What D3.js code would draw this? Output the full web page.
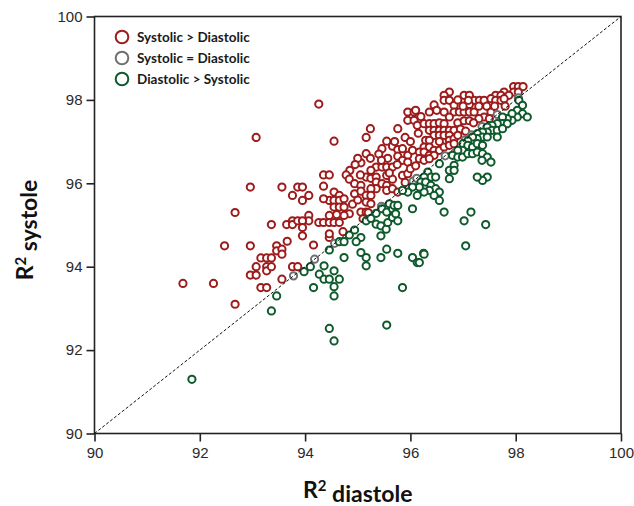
<!DOCTYPE html>
<html>
<head>
<meta charset="utf-8">
<script src="https://cdn.jsdelivr.net/npm/d3@7"></script>
<style>
  body { margin: 0; background: #fff; }
  svg { display: block; }
</style>
</head>
<body>
<div id="chart"></div>
<script>
// R2 diastole (x) / R2 systole (y)
var sysGreater = [
  [91.68,93.60],[92.26,93.60],[92.67,93.10],[92.47,94.50],[92.67,95.30],[92.96,95.91],[93.07,97.10],
  [92.96,94.50],[92.96,93.80],[93.07,93.80],[93.07,94.00],[93.16,94.21],[93.16,93.50],[93.27,94.21],
  [93.27,94.00],[93.27,93.90],[93.27,93.50],[93.36,94.21],[93.36,94.00],[93.36,95.01],[93.46,94.50],
  [93.46,94.38],[93.56,94.42],[93.56,94.30],[93.56,93.70],[93.56,95.91],[93.65,95.01],[93.66,94.61],
  [93.76,95.71],[93.76,95.10],[93.76,95.01],[93.76,94.00],[93.86,95.91],[93.86,95.10],[93.86,94.00],
  [93.95,95.59],[94.07,95.71],
  [94.26,97.90],[94.55,97.01],[95.24,97.31],[95.16,97.10],[95.76,97.31],[95.95,97.71],[96.07,97.71],
  [95.95,97.51],[96.07,97.51],[95.55,97.01],[95.46,96.83],[95.66,96.89],[95.76,96.81],[95.85,96.83],
  [95.95,96.67],[96.04,96.79],[95.16,96.71],[95.24,96.60],[95.06,96.49],[95.57,96.60],[95.76,96.65],
  [95.85,96.55],[95.95,96.51],[95.35,96.39],[95.46,96.39],[95.55,96.39],[95.66,96.39],[95.25,96.31],
  [94.85,96.31],[94.35,96.20],[94.46,96.20],[94.78,96.20],[94.84,96.10],[95.16,96.15],[95.25,96.12],
  [95.35,96.15],[95.55,96.19],[95.66,96.10],[95.85,96.19],[95.95,96.23],[94.94,95.99],[95.06,95.95],
  [95.35,96.03],[95.46,95.99],[95.55,95.95],[95.35,95.87],[95.55,95.83],[95.66,95.87],[95.76,95.79],
  [94.35,95.93],[94.55,95.79],[94.65,95.71],[94.46,95.59],[94.55,95.59],[94.65,95.59],[94.74,95.63],
  [94.94,95.75],[95.06,95.81],[95.16,95.71],[95.25,95.87],[95.25,95.71],[95.16,95.55],[95.25,95.51],
  [94.35,95.63],[93.95,95.91],[94.55,95.43],[94.65,95.43],[94.74,95.43],[94.46,95.23],[94.84,95.27],
  [95.06,95.31],[95.16,95.31],[94.26,95.06],[94.35,95.06],[94.46,95.06],[94.55,95.06],[94.65,95.06],
  [95.20,95.30],[94.07,95.23],[94.07,95.10],[93.95,95.10],[94.74,95.23],[93.95,94.94],[93.95,94.74],
  [94.46,94.70],[94.16,94.52],[94.46,94.79],[94.72,94.84],[96.00,96.35],[96.10,96.42],[95.90,96.02],
  [96.13,97.39],[96.36,97.71],[96.29,97.03],
  [95.00,96.60],[95.40,96.70],[95.70,97.00],[95.90,97.10],[96.00,97.00],[96.15,97.20],[96.20,97.60],
  [96.10,97.75],[95.05,96.20],[94.95,96.45],[95.45,96.55],[95.75,96.45],[95.60,96.25],[94.90,95.50],
  [95.00,95.60],[94.60,95.25],[95.10,95.15],
  [97.96,98.32],[98.05,98.32],[98.14,98.32],[96.74,98.19],[97.78,98.19],[97.96,98.19],[98.05,98.19],
  [96.64,98.11],[97.02,98.11],[97.12,98.11],[97.62,98.11],[97.72,98.11],[97.87,98.11],
  [96.64,97.99],[96.74,97.99],[97.21,97.99],[97.31,97.99],[97.40,97.99],[97.53,98.03],[97.62,97.99],
  [97.72,97.99],[97.78,98.03],[96.45,97.88],[96.83,97.87],[97.12,97.89],[97.45,97.85],[97.80,97.85],
  [96.50,97.75],[96.64,97.71],[96.83,97.71],[96.93,97.71],[97.02,97.71],[97.12,97.71],[97.21,97.71],
  [97.53,97.71],[96.74,97.59],[97.40,97.59],[97.30,97.55],[96.26,97.43],[96.36,97.43],[96.45,97.43],
  [96.55,97.45],[96.64,97.43],[96.90,97.45],[97.02,97.50],[97.12,97.50],[96.36,97.27],[96.45,97.27],
  [96.55,97.27],[96.64,97.27],[96.74,97.27],[96.83,97.27],[96.45,97.15],[96.55,97.15],[96.64,97.15],
  [96.74,97.15],[96.36,97.03],[96.74,97.03],[96.83,97.07],[96.26,96.87],[96.36,96.87],[96.45,96.79],
  [96.55,96.79],[96.64,96.87],[96.74,96.91],[96.83,96.95],[96.17,96.75],[96.26,96.75],[96.36,96.67],
  [96.45,96.67],[96.17,96.59],[96.26,96.55],[96.36,96.59],[97.00,97.85],[97.30,97.85],[97.60,97.85],
  [96.90,98.00],[97.10,97.99],[97.50,97.55],[97.20,97.45],[96.95,97.30],[97.05,97.25],[96.90,97.15],
  [96.55,97.00]
];

var sysEqual = [
  [93.78,93.78],[94.18,94.18],[94.56,94.56],[95.45,95.45],[96.05,96.05],[96.12,96.12],
  [96.66,96.66],[97.04,97.04],[97.16,97.16],[97.36,97.36],[97.65,97.65],[98.05,98.05]
];

var diaGreater = [
  [91.85,91.30],[93.36,92.94],[93.46,93.30],
  [93.98,93.88],[94.10,94.00],[94.16,93.50],[94.27,93.82],[94.36,94.02],[94.36,93.70],[94.46,93.70],
  [94.55,93.90],[94.65,93.70],[94.55,93.52],[94.55,93.30],[94.46,94.40],[94.65,94.60],[94.74,94.60],
  [94.74,94.22],[94.84,94.76],[94.94,94.88],[95.06,94.70],[94.97,94.60],[95.06,94.34],[95.16,94.22],
  [95.16,94.02],[95.44,94.22],[95.55,94.42],[95.76,94.32],[96.04,94.22],[96.13,94.10],[96.25,94.32],
  [95.85,93.50],[94.46,92.52],[94.55,92.22],[95.55,92.60],
  [95.16,95.10],[95.25,95.16],[95.35,95.02],[95.44,94.98],[95.54,94.90],[95.57,95.06],[95.66,95.18],
  [95.76,95.10],[95.44,94.74],[95.35,95.28],[95.46,95.39],[95.55,95.31],[95.66,95.39],[95.60,95.51],
  [95.69,95.47],[95.72,95.27],
  [96.33,96.27],[96.39,96.15],[96.48,96.15],[96.26,96.15],[96.20,96.03],[96.29,96.03],[96.39,95.95],
  [96.48,95.87],[96.36,95.83],[96.55,95.79],[96.45,95.71],[96.55,95.59],[96.26,95.79],[96.13,95.71],
  [96.17,95.91],[96.04,95.91],[95.95,95.79],[95.85,95.83],[95.76,95.47],[96.04,95.39],[96.64,95.31],
  [97.02,95.10],[97.15,95.31],[97.43,95.01],[97.05,94.50],[96.26,94.30],[96.17,94.10],
  [98.06,97.99],[98.13,97.87],[98.03,97.75],[98.13,97.67],[98.22,97.59],[98.03,97.59],[97.93,97.67],
  [97.93,97.51],[97.84,97.55],[97.75,97.59],[97.75,97.43],[97.84,97.43],[97.65,97.43],[97.55,97.39],
  [97.46,97.35],[97.55,97.27],[97.65,97.27],[97.75,97.31],[97.46,97.23],[97.37,97.23],[97.27,97.19],
  [97.37,97.11],[97.46,97.11],[97.27,97.07],[97.18,97.11],[97.09,97.02],[97.00,96.95],[97.09,96.91],
  [97.18,96.87],[97.27,96.95],[97.37,96.91],[96.99,96.79],[96.90,96.79],[96.80,96.67],[96.90,96.63],
  [96.99,96.63],[97.09,96.71],[97.18,96.71],[97.27,96.75],[97.37,96.71],[97.46,96.63],[97.53,96.51],
  [97.65,97.11],[97.46,96.15],[97.37,96.07],[97.27,96.15],[96.83,96.43],[96.74,96.31],[96.83,96.31],
  [96.74,96.11],[96.55,96.47],[97.36,96.55]
];

var tickValues = [90, 92, 94, 96, 98, 100];
var seriesNames = ["Systolic > Diastolic", "Systolic = Diastolic", "Diastolic > Systolic"];
var seriesColors = ["#9e1b1b", "#707070", "#0e5a2c"];

var width = 634, height = 506;
var margin = { top: 16.5, right: 13, bottom: 72.5, left: 94.5 };

var svg = d3.select("#chart")
  .append("svg")
  .attr("width", width)
  .attr("height", height);

var x = d3.scaleLinear().domain([90, 100]).range([margin.left, width - margin.right]);
var y = d3.scaleLinear().domain([90, 100]).range([height - margin.bottom, margin.top]);

// axes
var xAxis = svg.append("g")
  .attr("transform", "translate(0," + (height - margin.bottom) + ")")
  .call(d3.axisBottom(x).tickValues(tickValues).tickSize(8).tickSizeOuter(0).tickPadding(6));

var yAxis = svg.append("g")
  .attr("transform", "translate(" + margin.left + ",0)")
  .call(d3.axisLeft(y).tickValues(tickValues).tickSize(8).tickSizeOuter(0).tickPadding(4));

[xAxis, yAxis].forEach(function(a) {
  a.select(".domain").remove();
  a.selectAll("line").attr("stroke", "#222").attr("stroke-width", 1.6);
  a.selectAll("text")
    .attr("fill", "#2a2a2a")
    .style("font-family", "'Liberation Sans', Arial, sans-serif")
    .style("font-size", "15px");
});

// frame
svg.append("rect")
  .attr("x", x(90))
  .attr("y", y(100))
  .attr("width", x(100) - x(90))
  .attr("height", y(90) - y(100))
  .attr("fill", "none")
  .attr("stroke", "#222")
  .attr("stroke-width", 1.6);

// points
var series = [sysGreater, sysEqual, diaGreater];
series.forEach(function(pts, i) {
  svg.append("g")
    .selectAll("circle")
    .data(pts)
    .join("circle")
    .attr("cx", function(d) { return x(d[0]); })
    .attr("cy", function(d) { return y(d[1]); })
    .attr("r", 3.6)
    .attr("fill", "#fff")
    .attr("stroke", seriesColors[i])
    .attr("stroke-width", 2);
});

// identity line
svg.append("line")
  .attr("x1", x(90)).attr("y1", y(90))
  .attr("x2", x(100)).attr("y2", y(100))
  .attr("stroke", "#111")
  .attr("stroke-width", 1)
  .attr("stroke-dasharray", "3,2");

// legend
var legend = svg.append("g")
  .style("font-family", "Lato, 'Open Sans', sans-serif")
  .style("font-weight", "700")
  .style("font-size", "13.5px");

seriesNames.forEach(function(name, i) {
  var ly = 37 + i * 21;
  legend.append("circle")
    .attr("cx", 122).attr("cy", ly).attr("r", 6.3)
    .attr("fill", "#fff")
    .attr("stroke", seriesColors[i])
    .attr("stroke-width", 2);
  legend.append("text")
    .attr("x", 137).attr("y", ly)
    .attr("dy", "0.35em")
    .attr("fill", "#1a1a1a")
    .text(name);
});

// axis titles
function title(g, label) {
  var t = g.append("text")
    .attr("text-anchor", "middle")
    .attr("fill", "#111")
    .style("font-family", "Lato, 'Open Sans', sans-serif")
    .style("font-weight", "700")
    .style("font-size", "23px");
  t.append("tspan").text("R");
  t.append("tspan").attr("dy", "-0.45em").style("font-size", "15px").text("2");
  t.append("tspan").attr("dy", "0.45em").text(" " + label);
}

title(svg.append("g").attr("transform", "translate(" + ((x(90) + x(100)) / 2) + ",498)"), "diastole");
title(svg.append("g").attr("transform", "translate(33," + ((y(90) + y(100)) / 2 + 5) + ") rotate(-90)"), "systole");
</script>
</body>
</html>
